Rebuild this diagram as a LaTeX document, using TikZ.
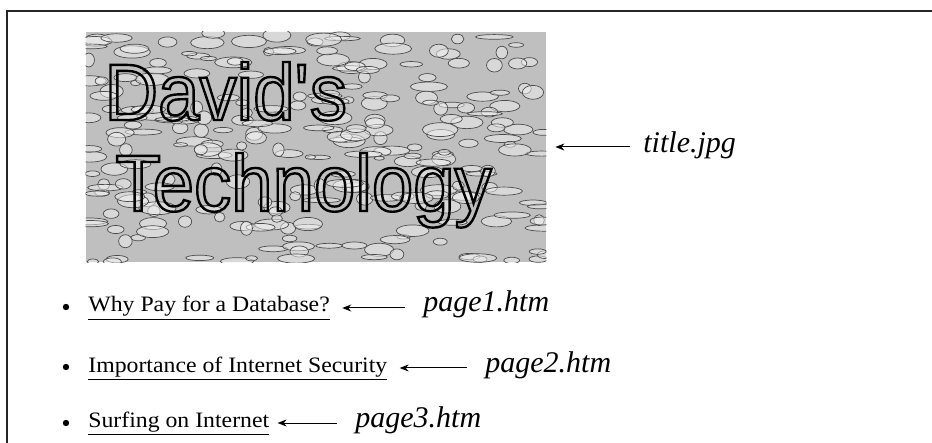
\documentclass[tikz,border=0pt]{standalone}
\usepackage{fontspec}
\setmainfont{Liberation Serif}
\newfontfamily\titlefont[FakeStretch=0.93]{Liberation Sans}
\newfontfamily\linkfont[FakeStretch=1.08]{Liberation Serif}
\newcommand{\hollow}[1]{\special{pdf:literal direct 1 Tr 1.2 w 0 G}#1\special{pdf:literal direct 0 Tr}}
\usetikzlibrary{arrows.meta}
\tikzset{
  lnk/.style={inner sep=0pt, anchor=base west, font=\linkfont\fontsize{11}{13}\selectfont},
  fname/.style={inner sep=0pt, anchor=base west, font=\itshape\fontsize{15}{18}\selectfont},
  bigword/.style={inner sep=0pt, anchor=base west, font=\titlefont\fontsize{40}{44}\selectfont},
  pointer/.style={-{Stealth[length=4.5pt,width=3.5pt]}, line width=0.5pt},
  bul/.style={circle, fill, inner sep=0pt, minimum size=3.2pt},
}

\begin{document}
\begin{tikzpicture}[x=0.5pt,y=-0.5pt]
    \useasboundingbox (0,0) rectangle (932,443);
    \draw[line width=1pt, black!85] (932,11) -- (7,11) -- (7,443);

    % title.jpg picture
    \node[inner sep=0pt, minimum width=230pt, minimum height=115pt, fill=gray!50] (img) at (316,147) {};
    \begin{scope}
        \clip (img.south west) rectangle (img.north east);
        \pgfmathsetseed{42}
        \foreach \i in {1,...,260}{
            \pgfmathsetmacro\px{86+460*rnd}
            \pgfmathsetmacro\py{32+230*rnd}
            \pgfmathsetmacro\rx{5+14*rnd}
            \pgfmathsetmacro\ry{2+5*rnd}
            \draw[black!70, line width=0.35pt, fill=gray!10, fill opacity=0.5] (\px,\py) ellipse [x radius=\rx, y radius=\ry];
        }
    \end{scope}
    \node[bigword] (w1) at (104,120) {\hollow{David\textquotesingle s}};
    \node[bigword] (w2) at (115,211) {\hollow{Technology}};

    \node[fname] (tl) at (643,153) {title.jpg};
    \draw[pointer, shorten <=6.5pt, shorten >=4.5pt] ([yshift=3pt]tl.base west) -- ([yshift=3pt]tl.base west -| img.east);

    % links
    \node[bul] (b1) at (66,307) {};
    \node[lnk] (l1) at (88,312) {\underline{Why Pay for a Database?}};
    \node[fname] (p1) at (423,312) {page1.htm};
    \draw[pointer, shorten <=9pt, shorten >=6pt] ([yshift=2pt]p1.base west) -- ([yshift=2pt]p1.base west -| l1.east);

    \node[bul] (b2) at (66,367) {};
    \node[lnk] (l2) at (88,372) {\underline{Importance of Internet Security}};
    \node[fname] (p2) at (485,372) {page2.htm};
    \draw[pointer, shorten <=9pt, shorten >=6pt] ([yshift=2pt]p2.base west) -- ([yshift=2pt]p2.base west -| l2.east);

    \node[bul] (b3) at (66,423) {};
    \node[lnk] (l3) at (88,427) {\underline{Surfing on Internet}};
    \node[fname] (p3) at (355,427) {page3.htm};
    \draw[pointer, shorten <=9pt, shorten >=4pt] ([yshift=2pt]p3.base west) -- ([yshift=2pt]p3.base west -| l3.east);
\end{tikzpicture}
\end{document}
